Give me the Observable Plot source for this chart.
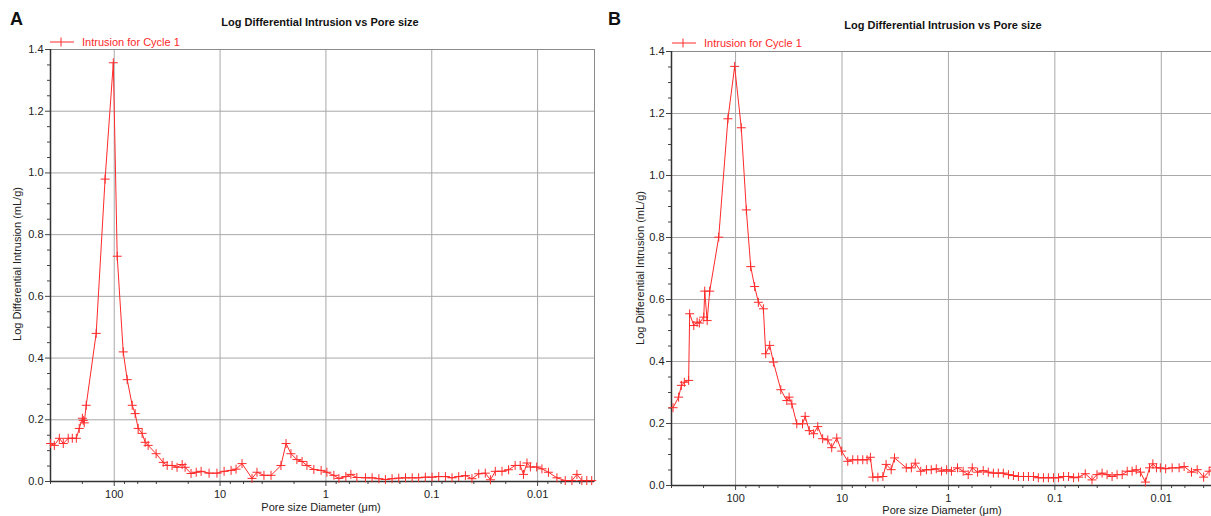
<!DOCTYPE html>
<html>
<head>
<meta charset="utf-8">
<script src="https://cdn.jsdelivr.net/npm/d3@7"></script>
<script src="https://cdn.jsdelivr.net/npm/@observablehq/plot@0.6"></script>
<style>
  html, body { margin: 0; padding: 0; background: #fff; }
  body { width: 1211px; height: 516px; overflow: hidden; position: relative; font-family: "Liberation Sans", Arial, sans-serif; }
  .abs { position: absolute; white-space: nowrap; line-height: 14px; height: 14px; }
  .panel { position: absolute; top: 0; }
  .panel svg { max-width: none !important; background: transparent; }
  .letter { font-weight: bold; font-size: 18px; line-height: 18px; height: 18px; color: #111; }
  .title { font-weight: bold; font-size: 11px; color: #111; transform: translateX(-50%); }
  .xlab { font-size: 11px; color: #222; transform: translateX(-50%); }
  .ylab { font-size: 11px; color: #222; transform: translate(-50%, -50%) rotate(-90deg); }
  .legend { font-size: 11px; color: #ff2a2a; }
</style>
</head>
<body>
<div id="pa" class="panel" style="left:0;width:605px"></div>
<div id="pb" class="panel" style="left:600px;width:640px"></div>

<div class="abs letter" style="left:10px;top:10px">A</div>
<div class="abs letter" style="left:608px;top:10px">B</div>
<div class="abs title" style="left:320px;top:15px">Log Differential Intrusion vs Pore size</div>
<div class="abs title" style="left:943px;top:18px">Log Differential Intrusion vs Pore size</div>

<svg class="abs" style="left:48px;top:36px;width:28px;height:12px" width="28" height="12">
  <line x1="2" y1="6" x2="26" y2="6" stroke="#ff2a2a" stroke-width="1"/>
  <line x1="13" y1="1.5" x2="13" y2="10.5" stroke="#ff2a2a" stroke-width="1"/>
</svg>
<div class="abs legend" style="left:82px;top:35px">Intrusion for Cycle 1</div>
<svg class="abs" style="left:670px;top:37px;width:28px;height:12px" width="28" height="12">
  <line x1="2" y1="6" x2="26" y2="6" stroke="#ff2a2a" stroke-width="1"/>
  <line x1="13" y1="1.5" x2="13" y2="10.5" stroke="#ff2a2a" stroke-width="1"/>
</svg>
<div class="abs legend" style="left:704px;top:36px">Intrusion for Cycle 1</div>

<div class="abs ylab" style="left:17px;top:264px">Log Differential Intrusion (mL/g)</div>
<div class="abs ylab" style="left:640px;top:268px">Log Differential Intrusion (mL/g)</div>
<div class="abs xlab" style="left:321px;top:500px">Pore size Diameter (μm)</div>
<div class="abs xlab" style="left:942px;top:503px">Pore size Diameter (μm)</div>

<script>
// ---- Data ----
// Panel A: pore size diameter (μm) and log differential intrusion (mL/g)
const diamA = [400,368,330,303,272,249,228,214,200,196,192,184,148,122,102,93.7,82.2,75.4,67.6,63.4,59.4,54.5,51.0,47.8,40.2,34.5,31.6,28.4,25.5,22.8,21.4,18.8,16.8,
  15.1,12.7,10.7,9.16,7.87,7.06,6.20,4.99,4.48,3.85,3.30,2.66,2.38,2.14,1.88,1.68,1.51,1.30,1.11,0.979,0.841,0.754,0.648,0.581,0.510,
  0.423,0.366,0.316,0.274,0.237,0.205,0.177,0.153,0.133,0.115,0.0993,0.0859,0.0743,0.0643,0.0556,0.0481,0.0417,0.0360,0.0312,0.0279,0.0251,0.0217,0.0188,0.0163,0.0146,0.0136,0.0126,0.0117,0.0102,0.0091,0.0079,0.00657,0.00548,0.00474,0.00425,0.00382,0.00343,0.00308];
const intrA = [0.123,0.117,0.14,0.123,0.14,0.14,0.14,0.172,0.205,0.198,0.19,0.247,0.48,0.98,1.357,0.73,0.42,0.33,0.247,0.22,0.172,0.156,0.127,0.117,0.09,0.062,0.052,0.052,0.046,0.055,0.046,0.026,0.03,
  0.033,0.027,0.027,0.033,0.036,0.04,0.058,0.01,0.03,0.02,0.02,0.052,0.123,0.09,0.071,0.065,0.052,0.039,0.036,0.03,0.02,0.01,0.016,0.023,0.013,
  0.012,0.012,0.009,0.0065,0.009,0.011,0.012,0.012,0.012,0.014,0.014,0.016,0.016,0.012,0.016,0.019,0.009,0.025,0.027,0.0055,0.033,0.033,0.038,0.052,0.052,0.023,0.06,0.047,0.047,0.041,0.03,0.012,0.003,0.003,0.023,0.003,0.003,0.003];

// Panel B
const diamB = [387,343,323,303,276,270,247,230,219,199,195,185,175,144,118,102,88.4,79.2,72.1,66.2,61.1,54.8,52.1,47.8,44.1,37.6,33.0,31.4,29.6,26.6,23.5,22.2,20.3,
  18.5,16.9,15.2,13.6,12.5,11.2,10.07,8.83,7.93,7.11,6.38,5.81,5.41,5.13,4.60,4.13,3.85,3.45,3.21,2.49,2.23,2.05,1.82,1.61,1.45,1.30,1.16,1.04,0.937,0.822,0.727,0.652,0.597,0.532,0.471,0.422,0.378,0.340,0.305,0.273,0.245,0.220,0.197,0.177,0.159,0.143,0.128,0.115,0.103,0.0923,0.0828,0.0743,0.0667,0.0598,0.0518,0.0448,0.0402,0.0360,0.0323,0.0290,0.0260,0.0233,0.0209,0.0188,0.0172,0.0157,0.0141,0.0129,0.0120,0.0111,0.0102,0.0091,0.0079,0.0068,0.0061,0.0052,0.0046,0.0040,0.00355,0.00323];
const intrB = [0.251,0.285,0.323,0.333,0.339,0.554,0.516,0.527,0.524,0.543,0.627,0.532,0.627,0.801,1.183,1.352,1.154,0.889,0.706,0.642,0.591,0.570,0.425,0.452,0.398,0.309,0.274,0.285,0.263,0.199,0.199,0.223,0.177,
  0.167,0.19,0.151,0.147,0.122,0.153,0.111,0.078,0.083,0.083,0.083,0.083,0.091,0.027,0.027,0.029,0.068,0.051,0.089,0.057,0.057,0.072,0.046,0.051,0.051,0.054,0.046,0.051,0.046,0.057,0.046,0.035,0.057,0.043,0.048,0.043,0.04,0.04,0.04,0.035,0.032,0.029,0.029,0.029,0.029,0.025,0.025,0.025,0.025,0.025,0.029,0.029,0.025,0.027,0.038,0.018,0.035,0.04,0.035,0.029,0.035,0.035,0.046,0.046,0.051,0.043,0.011,0.057,0.07,0.057,0.057,0.054,0.057,0.057,0.061,0.043,0.051,0.027,0.046,0.059];

// Ticks
const xMajor = [100, 10, 1, 0.1, 0.01];
const xMinor = [400, 200, 80, 60, 40, 20, 8, 6, 4, 2, 0.8, 0.6, 0.4, 0.2, 0.08, 0.06, 0.04, 0.02, 0.008, 0.006, 0.004];
const yMajor = [0, 0.2, 0.4, 0.6, 0.8, 1.0, 1.2, 1.4];
const yMinor = [0.05,0.1,0.15,0.25,0.3,0.35,0.45,0.5,0.55,0.65,0.7,0.75,0.85,0.9,0.95,1.05,1.1,1.15,1.25,1.3,1.35];

const RED = "#ff2a2a";
const plusSymbol = {
  draw(ctx, size) {
    const r = Math.sqrt(size / Math.PI);
    ctx.moveTo(-r, 0); ctx.lineTo(r, 0);
    ctx.moveTo(0, -r); ctx.lineTo(0, r);
  }
};

function makePlot(diam, intr, opts) {
  const data = diam.map((d, i) => ({d, v: intr[i]}));
  return Plot.plot({
    width: opts.width, height: 516,
    marginLeft: opts.ml, marginRight: opts.mr, marginTop: opts.mt, marginBottom: opts.mb,
    style: {fontFamily: '"Liberation Sans", Arial, sans-serif', fontSize: "11px", color: "#222", background: "transparent"},
    x: {type: "log", domain: [400, 0.0029]},
    y: {domain: [0, 1.4]},
    marks: [
      Plot.gridX(xMajor, {stroke: "#a8a8a8", strokeOpacity: 1, strokeWidth: 1}),
      Plot.gridY(yMajor, {stroke: "#a8a8a8", strokeOpacity: 1, strokeWidth: 1}),
      Plot.frame({stroke: "#8a8a8a", strokeWidth: 1}),
      Plot.axisY(yMinor, {tickSize: 3, tickFormat: () => "", label: null, stroke: "#444"}),
      Plot.axisY(yMajor, {tickSize: 5, tickPadding: 2, tickFormat: d => d.toFixed(1), label: null, stroke: "#444"}),
      Plot.axisX(xMinor, {tickSize: 3, tickFormat: () => "", label: null, stroke: "#444"}),
      Plot.axisX(xMajor, {tickSize: 5, tickPadding: 4, tickFormat: d => String(d), label: null, stroke: "#444"}),
      Plot.ruleY([0], {stroke: "#333", strokeWidth: 1.5}),
      Plot.ruleX([400], {stroke: "#333", strokeWidth: 1.5}),
      Plot.line(data, {x: "d", y: "v", stroke: RED, strokeWidth: 1}),
      Plot.dot(data, {x: "d", y: "v", symbol: plusSymbol, r: 4.5, stroke: RED, strokeWidth: 1, fill: "none"})
    ]
  });
}

document.getElementById("pa").appendChild(makePlot(diamA, intrA, {width: 605, ml: 50, mr: 11, mt: 49, mb: 35}));
document.getElementById("pb").appendChild(makePlot(diamB, intrB, {width: 640, ml: 71, mr: 22, mt: 51, mb: 31}));
</script>
</body>
</html>
